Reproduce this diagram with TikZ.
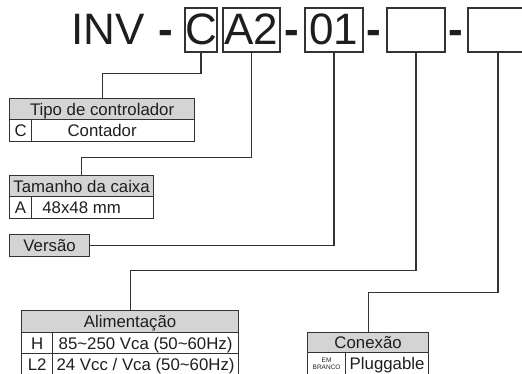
\documentclass[tikz,border=0pt]{standalone}
\usepackage{fontspec}
\setmainfont{Liberation Sans}
\definecolor{ln}{HTML}{333333}
\definecolor{hd}{HTML}{D4D4D4}
\definecolor{tx}{HTML}{1E1E1E}
\begin{document}
\begin{tikzpicture}[x=1pt,y=-1pt,
  big/.style={font=\fontsize{44}{44}\selectfont, text=tx, inner sep=0pt, anchor=base},
  dashsign/.style={big, font=\fontsize{44}{44}\selectfont\bfseries},
  codebox/.style={draw=ln, line width=1.2pt, inner sep=0pt, text height=37pt, text depth=7pt,
    anchor=base, font=\fontsize{44}{44}\selectfont, text=tx},
  cell/.style={draw=ln, line width=1.2pt, inner sep=0pt, text height=12pt, text depth=0pt,
    font=\fontsize{16.8}{16.8}\selectfont, text=tx, anchor=north west},
  head/.style={cell, fill=hd},
  tinycell/.style={draw=ln, line width=1.2pt, inner sep=0pt, anchor=north west, align=center,
    font=\fontsize{6.5}{7.5}\selectfont, text=tx},
  link/.style={draw=ln, line width=1.1pt}]
\clip (0,0) rectangle (522,374);
% title
\node[big, anchor=base west] (inv) at (71,45) {INV};
\node[dashsign] (d1) at (166,45) {-};
\node[codebox, minimum width=32pt] (bC) at (201,45) {C};
\node[codebox, minimum width=57pt] (bA) at (251.5,45) {A2};
\node[dashsign] (d2) at (292,45) {-};
\node[codebox, minimum width=58pt] (b01) at (334,45) {01};
\node[dashsign] (d3) at (374,45) {-};
\node[codebox, minimum width=58pt] (bE1) at (416,45) {};
\node[dashsign] (d4) at (456,45) {-};
\node[codebox, minimum width=60pt] (bE2) at (498,45) {};
% Tipo de controlador
\node[head, minimum width=185pt, minimum height=21pt] (tipoH) at (9,98) {Tipo de controlador};
\node[cell, minimum width=185pt, minimum height=22pt] (tipoR) at (9,119) {Contador};
\node[cell, minimum width=22pt, minimum height=22pt] (tipoK) at (9,119) {C};
% Tamanho da caixa
\node[head, minimum width=144pt, minimum height=21pt] (tamH) at (9,175) {Tamanho da caixa};
\node[cell, minimum width=144pt, minimum height=22pt] (tamR) at (9,196) {48x48 mm};
\node[cell, minimum width=22pt, minimum height=22pt] (tamK) at (9,196) {A};
% Versao
\node[head, minimum width=80pt, minimum height=22pt] (ver) at (9,234) {Versão};
% Alimentacao
\node[head, minimum width=217pt, minimum height=22pt] (aliH) at (21,310) {Alimentação};
\node[cell, minimum width=31pt, minimum height=21pt] (aliK1) at (21,332) {H};
\node[cell, minimum width=186pt, minimum height=21pt] (aliV1) at (52,332) {85\char"7E 250 Vca (50\char"7E 60Hz)};
\node[cell, minimum width=31pt, minimum height=22pt] (aliK2) at (21,353) {L2};
\node[cell, minimum width=186pt, minimum height=22pt] (aliV2) at (52,353) {24 Vcc / Vca (50\char"7E 60Hz)};
% Conexao
\node[head, minimum width=121pt, minimum height=20pt] (conH) at (307,332) {Conexão};
\node[tinycell, minimum width=38pt, minimum height=22pt] (conK) at (307,352) {EM\\BRANCO};
\node[cell, minimum width=83pt, minimum height=22pt] (conV) at (345,352) {Pluggable};
% connectors
\draw[link] (bC.south) -- ++(0,21) -| (tipoH.north);
\draw[link] (bA.south) -- ++(0,105) -| (tamH.north);
\draw[link] (b01.south) |- (ver.east);
\draw[link] (bE1.south) -- ++(0,218) -| (aliH.north);
\draw[link] (bE2.south) -- ++(0,240) -| (conH.north);
\end{tikzpicture}
\end{document}
